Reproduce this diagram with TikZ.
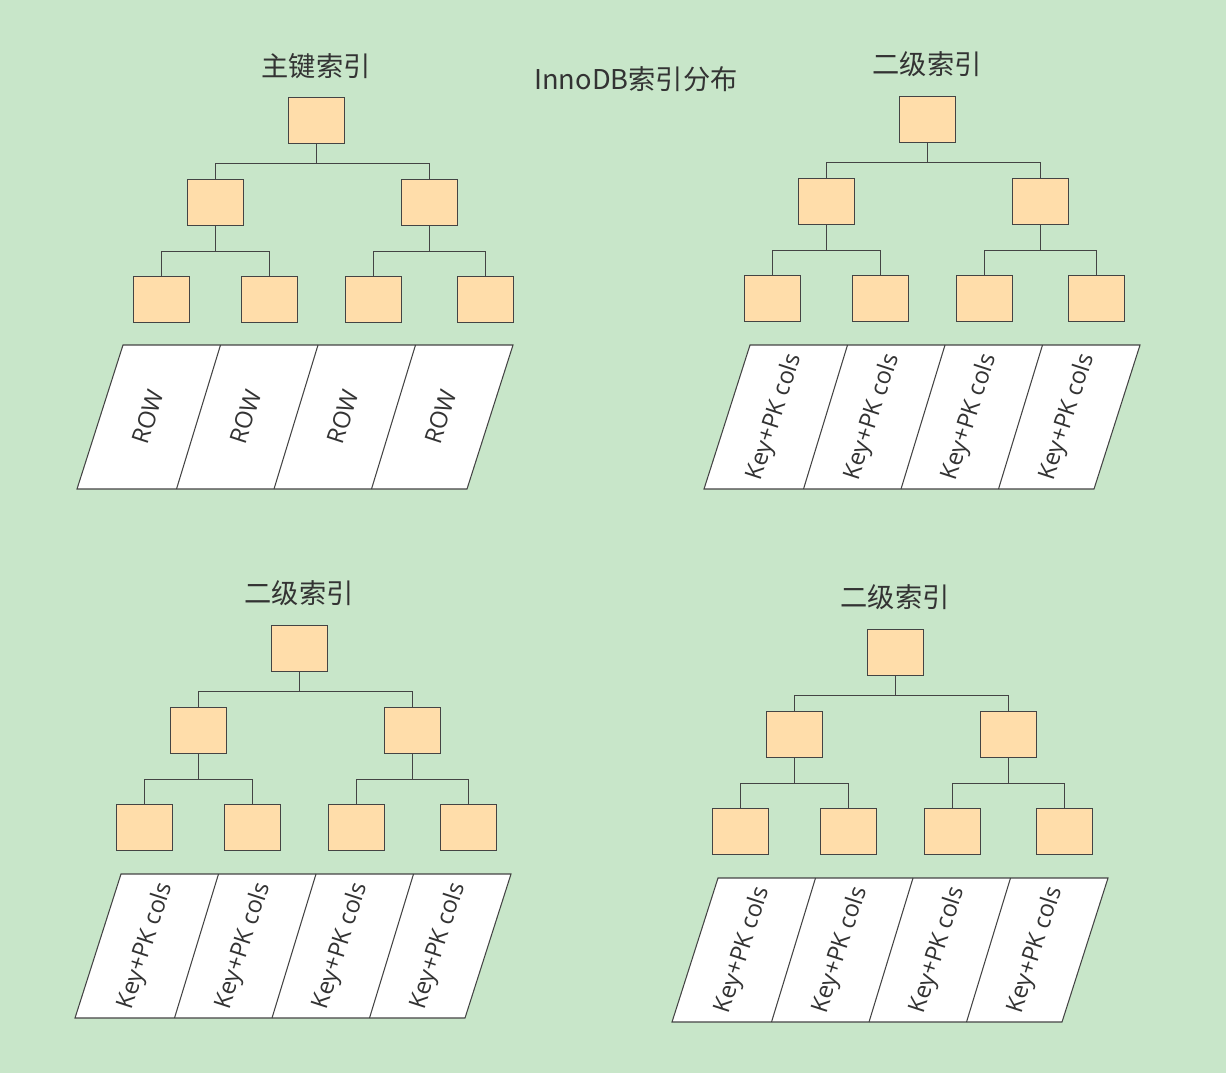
\documentclass[tikz,border=0pt]{standalone}
\usepackage{fontspec}
\setmainfont{Open Sans}
\newfontfamily\cjk{Noto Sans CJK SC}
\definecolor{bg}{HTML}{C8E6C9}
\definecolor{pk}{HTML}{FFDDAA}
\definecolor{ln}{HTML}{444444}
\definecolor{tx}{HTML}{333333}
\tikzset{bx/.style={draw=ln,fill=pk,minimum width=1.12cm,minimum height=0.92cm,inner sep=0pt,line width=0.6pt},
 cn/.style={draw=ln,line width=0.6pt},
 ttl/.style={text=tx,font=\cjk\fontsize{15.5}{18}\selectfont},
 cell/.style={text=tx,font=\fontsize{13.5}{16}\selectfont,rotate=72}}
\newcommand{\mytree}[8]{% prefix, rootx, rooty, parax, paray, title, celltext, titley
 \node[ttl] (#1t) at (#2+28,#8) {#6};
 \node[bx,anchor=north west] (#1r) at (#2,#3) {};
 \node[bx,anchor=north west] (#1a) at (#2-101,#3+82) {};
 \node[bx,anchor=north west] (#1b) at (#2+113,#3+82) {};
 \node[bx,anchor=north west] (#1c) at (#2-155,#3+179) {};
 \node[bx,anchor=north west] (#1d) at (#2-47,#3+179) {};
 \node[bx,anchor=north west] (#1e) at (#2+57,#3+179) {};
 \node[bx,anchor=north west] (#1f) at (#2+169,#3+179) {};
 \draw[cn] (#1r.south) -- ++(0,19) -| (#1a.north);
 \draw[cn] (#1r.south) -- ++(0,19) -| (#1b.north);
 \draw[cn] (#1a.south) -- ++(0,25) -| (#1c.north);
 \draw[cn] (#1a.south) -- ++(0,25) -| (#1d.north);
 \draw[cn] (#1b.south) -- ++(0,25) -| (#1e.north);
 \draw[cn] (#1b.south) -- ++(0,25) -| (#1f.north);
 \draw[cn,fill=white] (#4,#5) coordinate (#1p1) -- (#4+390,#5) -- (#4+344,#5+144) -- (#4-46,#5+144) -- cycle;
 \foreach \i in {1,2,3} {\draw[cn] (#4+97.5*\i,#5) -- (#4+97.5*\i-44,#5+144);}
 \foreach \i in {0,1,2,3} {\node[cell] (#1s\i) at (#4+97.5*\i+25,#5+72) {#7};}
}
\begin{document}
\begin{tikzpicture}[x=0.02cm,y=-0.02cm]
\fill[bg] (0,0) rectangle (1226,1073);
\node[ttl] (main) at (636,79) {InnoDB索引分布};
\mytree{A}{288}{97}{123}{345}{主键索引}{ROW}{66}
\mytree{B}{899}{96}{750}{345}{二级索引}{Key+PK cols}{64}
\mytree{C}{271}{625}{121}{874}{二级索引}{Key+PK cols}{593}
\mytree{D}{867}{629}{718}{878}{二级索引}{Key+PK cols}{597}
\end{tikzpicture}
\end{document}
